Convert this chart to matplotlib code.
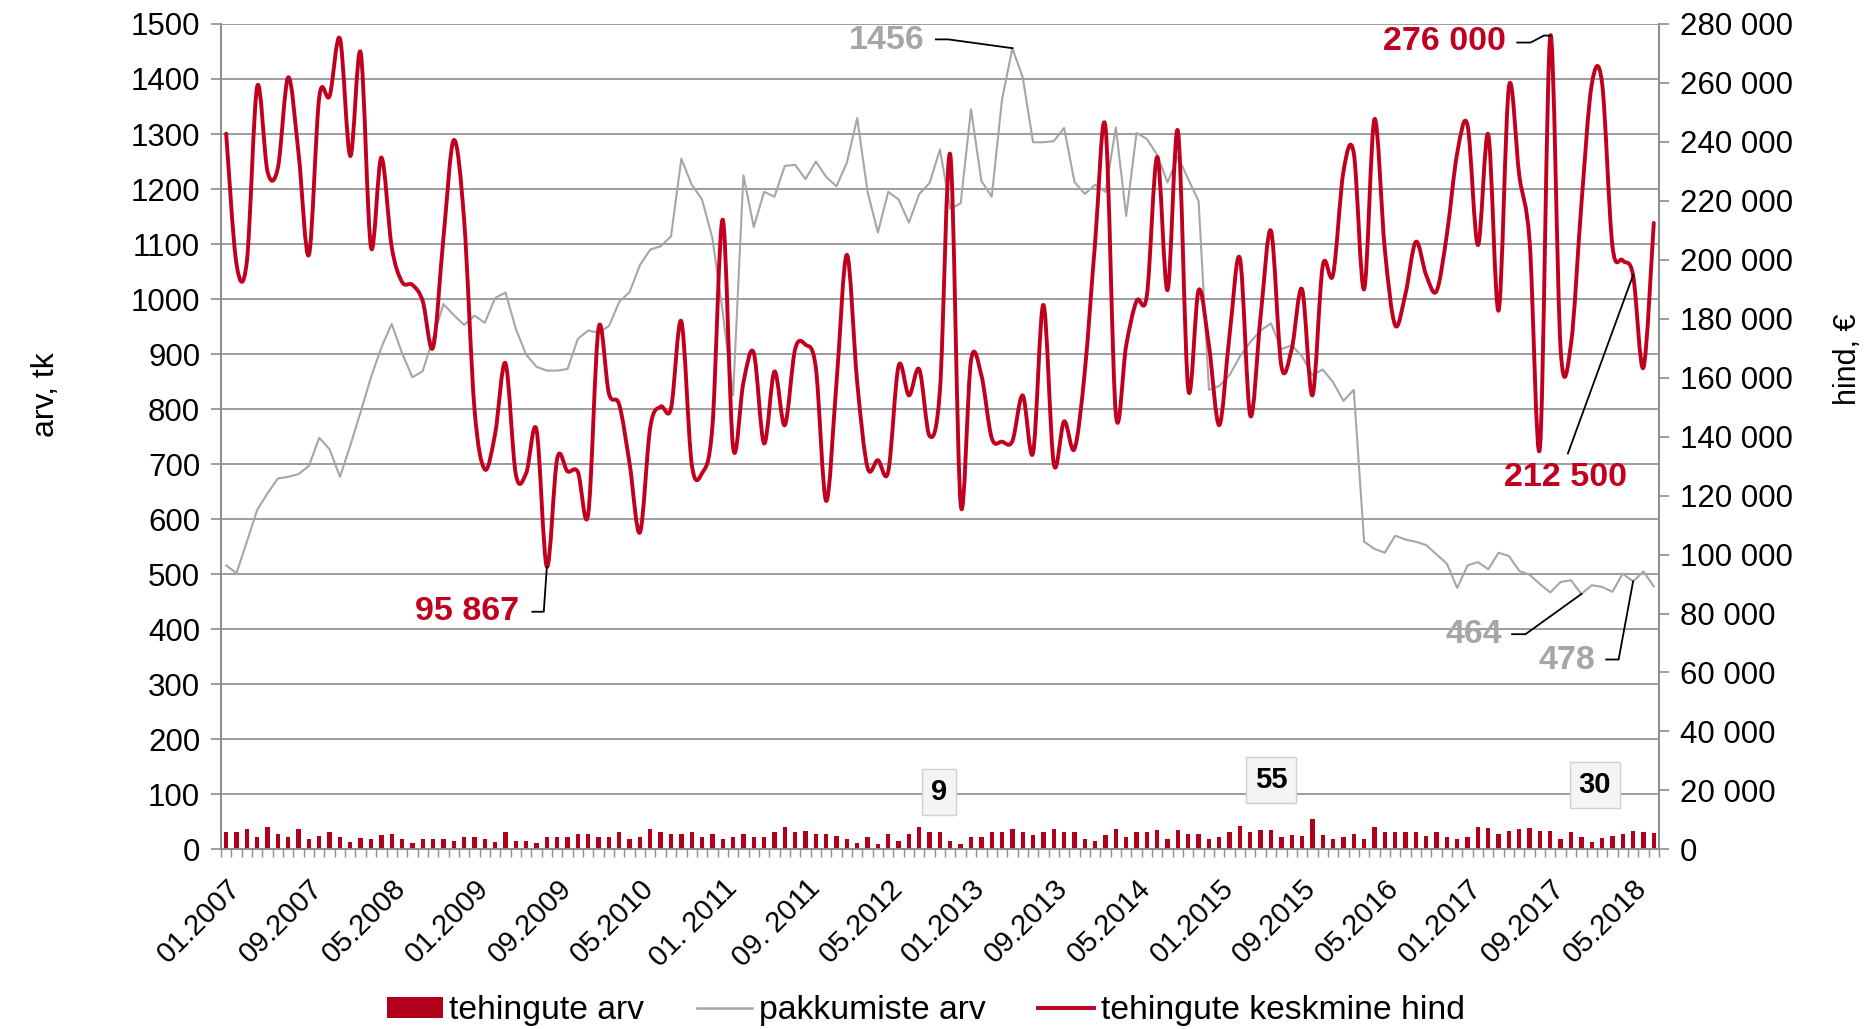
import numpy as np
import matplotlib
matplotlib.use("Agg")
import matplotlib.pyplot as plt
from matplotlib.path import Path
from matplotlib.patches import PathPatch, Patch
from matplotlib.lines import Line2D
from matplotlib.ticker import FuncFormatter, MultipleLocator

plt.rcParams['font.family'] = ['Liberation Sans', 'DejaVu Sans']

# ---------------- data ----------------
tick_labels = ["01.2007", "09.2007", "05.2008", "01.2009", "09.2009", "05.2010",
               "01. 2011", "09. 2011", "05.2012", "01.2013", "09.2013", "05.2014",
               "01.2015", "09.2015", "05.2016", "01.2017", "09.2017", "05.2018"]

deals = [31, 31, 37, 23, 40, 28, 23, 37, 18, 25, 31, 22, 14, 20, 18, 26, 28, 18, 11, 18,
         18, 18, 16, 23, 23, 18, 14, 32, 16, 16, 11, 22, 23, 23, 28, 28, 22, 23, 32, 18,
         22, 37, 32, 28, 28, 31, 23, 28, 18, 23, 28, 22, 22, 32, 40, 31, 34, 28, 28, 25,
         18, 11, 23, 10, 28, 16, 28, 40, 32, 31, 16, 9, 23, 23, 31, 31, 37, 32, 26, 31,
         37, 31, 32, 18, 16, 26, 37, 23, 32, 32, 36, 18, 36, 28, 28, 18, 23, 32, 43, 32,
         36, 36, 22, 26, 25, 55, 26, 18, 23, 28, 18, 40, 31, 32, 32, 31, 25, 32, 23, 18,
         23, 40, 39, 28, 33, 37, 39, 33, 33, 18, 31, 23, 14, 21, 25, 28, 33, 31, 30]

offers = [516, 502, 559, 617, 647, 674, 677, 682, 697, 748, 727, 677, 734, 795, 858, 912,
          955, 902, 858, 869, 929, 991, 971, 953, 970, 957, 1002, 1012, 946, 899, 877, 870,
          870, 873, 928, 943, 939, 951, 995, 1013, 1062, 1090, 1096, 1114, 1255, 1208, 1181,
          1111, 976, 825, 1225, 1131, 1195, 1186, 1242, 1244, 1218, 1250, 1222, 1205, 1248,
          1329, 1195, 1121, 1195, 1181, 1139, 1191, 1211, 1272, 1164, 1174, 1345, 1215, 1186,
          1363, 1456, 1403, 1285, 1285, 1287, 1311, 1213, 1191, 1208, 1195, 1312, 1151, 1302,
          1291, 1262, 1212, 1259, 1218, 1178, 835, 842, 862, 896, 922, 943, 956, 909, 916,
          896, 862, 872, 849, 815, 835, 559, 546, 539, 570, 563, 559, 553, 536, 519, 475,
          516, 522, 509, 539, 533, 506, 499, 482, 467, 486, 489, 464, 480, 477, 468, 501,
          487, 505, 478]

price = [242800, 198500, 199500, 258800, 229900, 231200, 261900, 236000, 201700, 255200,
         255600, 275000, 235200, 270300, 204200, 234700, 204400, 192500, 191500, 186000,
         170300, 207300, 240600, 213600, 149600, 128900, 141000, 164900, 127200, 127600,
         142300, 95867, 132600, 128200, 128000, 113800, 176900, 154600, 150800, 130800,
         107500, 143300, 150200, 149600, 179100, 130800, 127600, 143300, 213600, 136400,
         158400, 168400, 137700, 162100, 143900, 169700, 171200, 163400, 118200, 158400,
         201700, 158400, 129500, 132000, 128200, 164000, 154000, 162800, 140200, 155900,
         235600, 117000, 165900, 160900, 139600, 138300, 138500, 154000, 134500, 184700,
         130800, 145200, 135800, 162100, 206000, 245000, 147700, 170900, 186000, 187900,
         234900, 189700, 243700, 156100, 189700, 170900, 143900, 174700, 200400, 147100,
         181000, 209800, 164000, 169700, 190000, 154000, 197900, 195000, 229900, 236200,
         190000, 247700, 203600, 177800, 188500, 206100, 194800, 189400, 208600, 236200,
         245600, 205000, 242500, 182800, 258800, 228600, 206100, 136400, 276000, 169400,
         171500, 218600, 259400, 260000, 204800, 199800, 194800, 163400, 212500]

RED = '#C0001E'
BAR = '#B0001C'
GRAY = '#A6A6A6'
GRID = '#8C8C8C'

n = len(price)
x = np.arange(n)

fig = plt.figure(figsize=(18.76, 10.29), dpi=100)
fig.patch.set_facecolor('white')
ax = fig.add_axes([0.1178, 0.1746, 0.7665, 0.8021])
ax2 = ax.twinx()

# bars + offers line (left axis)
ax.bar(x, deals, width=0.42, color=BAR, zorder=2)
ax.plot(x, offers, color=GRAY, lw=1.5, zorder=3)

ax.set_xlim(-0.5, n - 0.5)
ax.set_ylim(0, 1500)
ax.yaxis.set_major_locator(MultipleLocator(100))
ax.grid(axis='y', color=GRID, lw=1.2, zorder=0)
ax.set_axisbelow(True)

# smooth red line (Excel-like Bezier through the data points)
px = x.astype(float)
py = np.array(price, dtype=float)
verts = [(px[0], py[0])]
codes = [Path.MOVETO]
for i in range(n - 1):
    p0 = np.array([px[max(i - 1, 0)], py[max(i - 1, 0)]])
    p1 = np.array([px[i], py[i]])
    p2 = np.array([px[i + 1], py[i + 1]])
    p3 = np.array([px[min(i + 2, n - 1)], py[min(i + 2, n - 1)]])
    c1 = p1 + (p2 - p0) / 6.0
    c2 = p2 - (p3 - p1) / 6.0
    verts += [tuple(c1), tuple(c2), tuple(p2)]
    codes += [Path.CURVE4] * 3
ax2.add_patch(PathPatch(Path(verts, codes), facecolor='none', edgecolor=RED,
                        lw=2.8, capstyle='round', joinstyle='round', zorder=4))
ax2.set_ylim(0, 280000)
ax2.yaxis.set_major_locator(MultipleLocator(20000))
ax2.yaxis.set_major_formatter(FuncFormatter(lambda v, p: f"{int(v):,}".replace(',', ' ')))

# axes styling
for a in (ax, ax2):
    a.spines['top'].set_visible(False)
    for s in ('left', 'right', 'bottom'):
        a.spines[s].set_color(GRID)
        a.spines[s].set_linewidth(1.2)
ax.tick_params(axis='y', labelsize=22.5, length=7, width=1.2, color=GRID, pad=8)
ax2.tick_params(axis='y', labelsize=22.5, length=7, width=1.2, color=GRID, pad=8)

tick_pos = np.arange(0, n, 8)[:len(tick_labels)]
ax.set_xticks(tick_pos)
ax.set_xticklabels(tick_labels, rotation=45, ha='right', va='top',
                   rotation_mode='anchor', fontsize=21)
ax.set_xticks(np.arange(-0.5, n, 1), minor=True)
ax.tick_params(axis='x', which='major', length=0, pad=18)
ax.tick_params(axis='x', which='minor', length=6, width=1.0, color=GRID)

fig.text(46 / 1876, 1 - 395 / 1029, 'arv, tk', rotation=90, fontsize=23,
         ha='center', va='center')
fig.text(1848 / 1876, 1 - 359 / 1029, 'hind, €', rotation=90, fontsize=22,
         ha='center', va='center')

# ---------------- annotations ----------------
ANN_RED = '#C0001E'
ANN_GRAY = '#A6A6A6'
AFS = 24.5


def leader(pts, axis):
    xs, ys = zip(*pts)
    axis.plot(xs, ys, color='black', lw=1.3, zorder=6, clip_on=False)


imax_o = int(np.argmax(offers))
ax.text(63.9, 1470, f"{offers[imax_o]}", color=ANN_GRAY, fontsize=AFS,
        fontweight='bold', ha='center', va='center', zorder=6)
leader([(68.6, 1472), (69.8, 1472), (imax_o, offers[imax_o])], ax)

imax_p = int(np.argmax(price))
ax2.text(117.8, 273900, f"{price[imax_p]:,}".replace(',', ' '), color=ANN_RED,
         fontsize=AFS, fontweight='bold', ha='center', va='center', zorder=6)
leader([(124.8, 273700), (126.1, 273700), (127.4, 276100), (imax_p, price[imax_p])], ax2)

imin_p = int(np.argmin(price))
ax2.text(23.3, 80600, f"{price[imin_p]:,}".replace(',', ' '), color=ANN_RED,
         fontsize=AFS, fontweight='bold', ha='center', va='center', zorder=6)
leader([(29.6, 80600), (30.7, 80600), (imin_p, price[imin_p])], ax2)

ax2.text(129.5, 126300, f"{price[-1]:,}".replace(',', ' '), color=ANN_RED,
         fontsize=AFS, fontweight='bold', ha='center', va='center', zorder=6)
leader([(129.7, 134300), (136, price[136])], ax2)

imin_o = int(np.argmin(offers))
ax.text(120.6, 391, f"{offers[imin_o]}", color=ANN_GRAY, fontsize=AFS,
        fontweight='bold', ha='center', va='center', zorder=6)
leader([(124.3, 391), (125.6, 391), (imin_o, offers[imin_o])], ax)

ax.text(129.6, 344, f"{offers[-1]}", color=ANN_GRAY, fontsize=AFS,
        fontweight='bold', ha='center', va='center', zorder=6)
leader([(133.4, 345), (134.6, 345), (136, offers[136])], ax)

box = dict(boxstyle='square,pad=0.3', facecolor='#F4F4F4', edgecolor='#D0D0D0', lw=1)
ax.text(68.9, 104, f"{min(deals)}", fontsize=21, fontweight='bold', ha='center',
        va='center', bbox=box, zorder=6)
ax.text(101.0, 126, f"{max(deals)}", fontsize=21, fontweight='bold', ha='center',
        va='center', bbox=box, zorder=6)
ax.text(132.3, 117, f"{deals[-1]}", fontsize=21, fontweight='bold', ha='center',
        va='center', bbox=box, zorder=6)

# ---------------- legend ----------------
handles = [Patch(facecolor=BAR, edgecolor='none'),
           Line2D([], [], color=GRAY, lw=1.8),
           Line2D([], [], color=RED, lw=2.8)]
labels = ['tehingute arv', 'pakkumiste arv', 'tehingute keskmine hind']
fig.legend(handles, labels, loc='center', bbox_to_anchor=(0.4935, 0.0175), ncol=3,
           frameon=False, fontsize=24.3, handlelength=1.65, handletextpad=0.2,
           columnspacing=1.55, handleheight=0.6)

fig.savefig('out.png', dpi=100, facecolor='white')
